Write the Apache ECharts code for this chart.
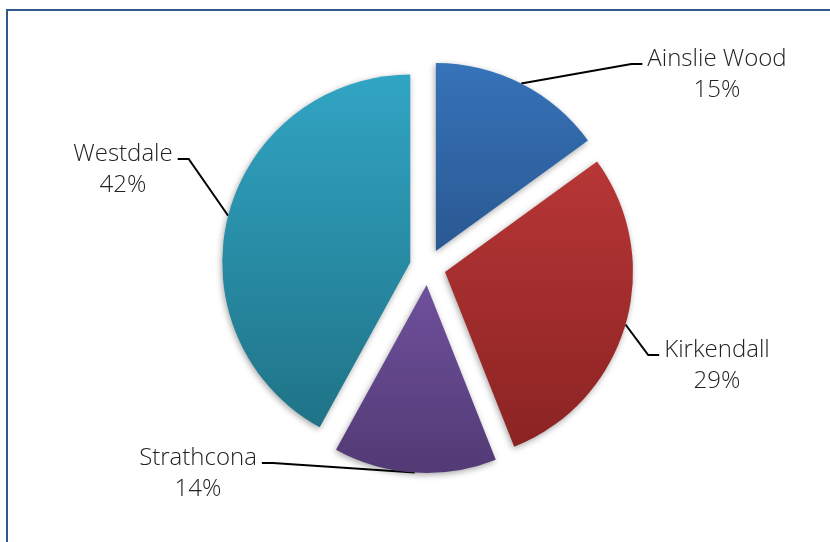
<!DOCTYPE html>
<html>
<head>
<meta charset="utf-8">
<script src="https://cdn.jsdelivr.net/npm/echarts@6/dist/echarts.min.js"></script>
<style>
  html, body { margin: 0; padding: 0; background: #ffffff; }
  #chart { width: 830px; height: 542px; }
</style>
</head>
<body>
<div id="chart"></div>
<script>
// ---- data ----
const categories = ['Ainslie Wood', 'Kirkendall', 'Strathcona', 'Westdale'];
const shares = [15, 29, 14, 42];

// ---- styling / layout (not data) ----
const gradTop = ['#3673b9', '#b83636', '#6f509c', '#31a5c4'];
const gradBottom = ['#2a5892', '#8b2323', '#523a74', '#1f7387'];
const labelAnchors = [[717, 75], [717, 366], [198, 474], [123, 170]];
const pieCenter = [427.7, 267];
const pieRadius = 188;
const explode = 18;

const chart = echarts.init(document.getElementById('chart'), null, { renderer: 'canvas' });

const total = shares.reduce(function (a, b) { return a + b; }, 0);
let cum = 0;
const series = categories.map(function (name, i) {
  const mid = (cum + shares[i] / 2) / total * Math.PI * 2;
  cum += shares[i];
  const cx = pieCenter[0] + explode * Math.sin(mid);
  const cy = pieCenter[1] - explode * Math.cos(mid);
  return {
    type: 'pie',
    center: [cx, cy],
    radius: [0, pieRadius],
    startAngle: 90,
    clockwise: true,
    avoidLabelOverlap: false,
    minShowLabelAngle: 0,
    emphasis: { disabled: true },
    label: {
      show: false,
      position: 'outside',
      formatter: '{n|{b}}\n{p|{d}%}',
      rich: {
        n: { fontFamily: 'Open Sans', fontWeight: 300, fontSize: 24, lineHeight: 31, align: 'center', color: '#222222' },
        p: { fontFamily: 'Open Sans', fontWeight: 300, fontSize: 24, lineHeight: 31, align: 'center', color: '#222222' }
      }
    },
    labelLine: {
      show: false,
      length: 20,
      length2: 10,
      lineStyle: { color: '#000000', width: 2 }
    },
    labelLayout: function (p) {
      if (p.dataIndex !== i) { return {}; }
      const a = labelAnchors[i];
      const w = p.labelRect.width;
      const side = a[0] > pieCenter[0] ? -1 : 1;
      const ex = a[0] + side * (w / 2 + 5);
      const ey = a[1] - 11;
      const start = p.labelLinePoints ? p.labelLinePoints[0] : [cx, cy];
      return {
        x: a[0], y: a[1], align: 'center', verticalAlign: 'middle',
        labelLinePoints: [start, [ex + side * 11, ey], [ex, ey]]
      };
    },
    data: categories.map(function (n, j) {
      if (j !== i) {
        return {
          name: n, value: shares[j],
          itemStyle: { color: 'rgba(0,0,0,0)', shadowBlur: 0, shadowColor: 'rgba(0,0,0,0)' },
          label: { show: false }, labelLine: { show: false }
        };
      }
      return {
        name: n,
        value: shares[j],
        label: { show: true },
        labelLine: { show: true },
        itemStyle: {
          shadowBlur: 6,
          shadowColor: 'rgba(0,0,0,0.35)',
          shadowOffsetX: -1,
          shadowOffsetY: 2,
          color: new echarts.graphic.LinearGradient(0, 0, 0, 1, [
            { offset: 0, color: gradTop[j] },
            { offset: 1, color: gradBottom[j] }
          ])
        }
      };
    })
  };
});

chart.setOption({
  animation: false,
  backgroundColor: '#ffffff',
  graphic: [{
    type: 'rect',
    silent: true,
    shape: { x: 7, y: 10, width: 900, height: 700 },
    style: { fill: 'none', stroke: '#30598b', lineWidth: 2 }
  }],
  series: series
});
</script>
</body>
</html>
